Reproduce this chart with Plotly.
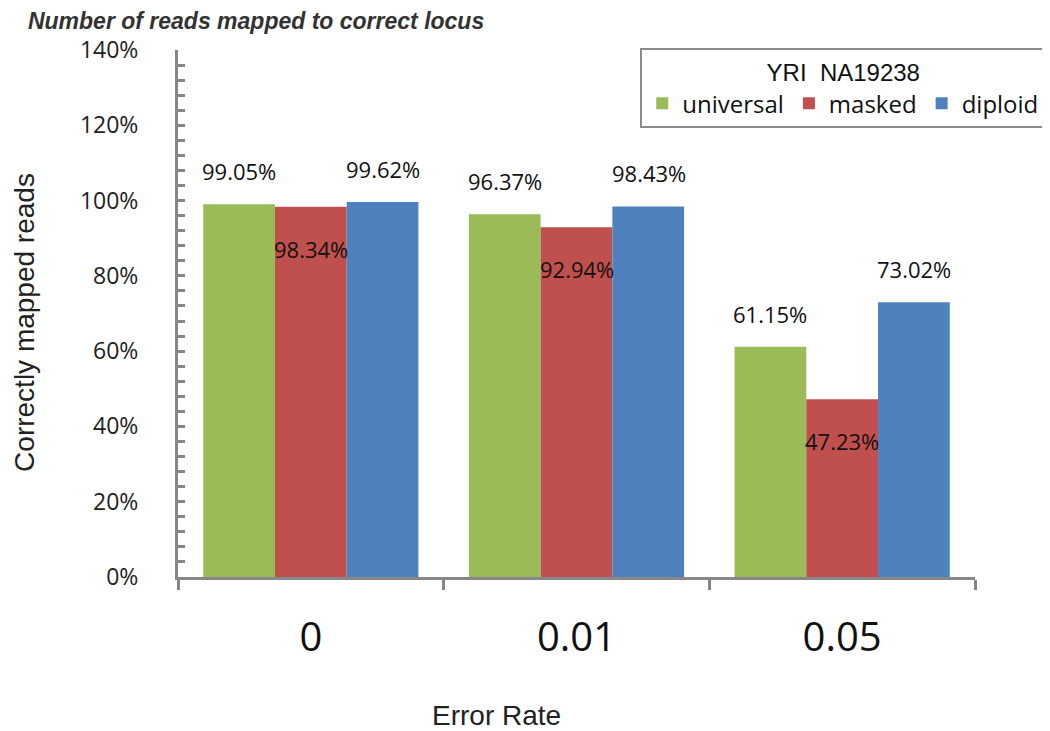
import plotly.graph_objects as go

# error rates on the x axis
error_rates = ['0', '0.01', '0.05']
series_names = ['universal', 'masked', 'diploid']
universal = [99.05, 96.37, 61.15]
masked = [98.34, 92.94, 47.23]
diploid = [99.62, 98.43, 73.02]
y_ticks = [0, 20, 40, 60, 80, 100, 120, 140]

colors = ['#9BBB59', '#C0504D', '#4F81BD']
values = [universal, masked, diploid]

fig = go.Figure()
for name, vals, col in zip(series_names, values, colors):
    fig.add_trace(go.Bar(x=error_rates, y=[v / 100 for v in vals], name=name,
                         marker=dict(color=col, line=dict(width=0))))

# data labels: green/blue above bar, red inside below top
bar_px = 72
for i, vals in enumerate(values):
    for j, v in enumerate(vals):
        fig.add_annotation(x=j, y=v / 100, xref='x', yref='y',
                           text='%.2f%%' % v, showarrow=False,
                           xshift=(i - 1) * bar_px,
                           yshift=-42 if i == 1 else 33,
                           font=dict(family='Open Sans', size=22, color='#111'))

fig.add_annotation(x=0.399, y=-0.262, xref='paper', yref='paper', text='Error Rate',
                   showarrow=False, xanchor='center', yanchor='middle',
                   font=dict(family='Liberation Sans', size=28, color='#222'))
fig.add_annotation(x=-0.192, y=0.484, xref='paper', yref='paper', text='Correctly mapped reads',
                   showarrow=False, textangle=-90, xanchor='center', yanchor='middle',
                   font=dict(family='Liberation Sans', size=28, color='#222'))

# page body has an 8px margin, margins below compensate for it
fig.update_layout(
    width=1050, height=731,
    margin=dict(l=170, r=83, t=42, b=162),
    plot_bgcolor='white', paper_bgcolor='white',
    barmode='group', bargap=0.19, bargroupgap=0,
    title=dict(text='<b><i>Number of reads mapped to correct locus</i></b>',
               x=0.019, xanchor='left', y=0.982, yanchor='middle', xref='container', yref='container',
               font=dict(family='Liberation Sans', size=23, color='#333')),
    legend=dict(orientation='h', x=0.58, xanchor='left', y=1.004, yanchor='top',
                bordercolor='#8c8c8c', borderwidth=2, bgcolor='white',
                title=dict(text='YRI  NA19238', side='top center',
                           font=dict(family='Liberation Sans', size=24, color='#111')),
                font=dict(family='Open Sans', size=24, color='#111'),
                itemwidth=30, traceorder='normal'),
)

fig.update_yaxes(range=[0, 1.4], tickvals=[t / 100 for t in y_ticks],
                 ticktext=['%d%%' % t for t in y_ticks],
                 showgrid=False, zeroline=False,
                 showline=True, linecolor='#878787', linewidth=3,
                 ticks='inside', ticklen=7, tickwidth=3, tickcolor='#878787',
                 minor=dict(dtick=0.04, ticks='inside', ticklen=7, tickwidth=3, tickcolor='#878787'),
                 ticklabelstandoff=32,
                 tickfont=dict(family='Open Sans', size=23, color='#222'))
fig.update_xaxes(type='category', showgrid=False, showline=True, linecolor='#878787', linewidth=3,
                 ticks='outside', tickson='boundaries', ticklen=10, tickwidth=3, tickcolor='#878787',
                 ticklabelstandoff=23,
                 tickfont=dict(family='Open Sans', size=40, color='#111'))

fig.write_html('out.html')
